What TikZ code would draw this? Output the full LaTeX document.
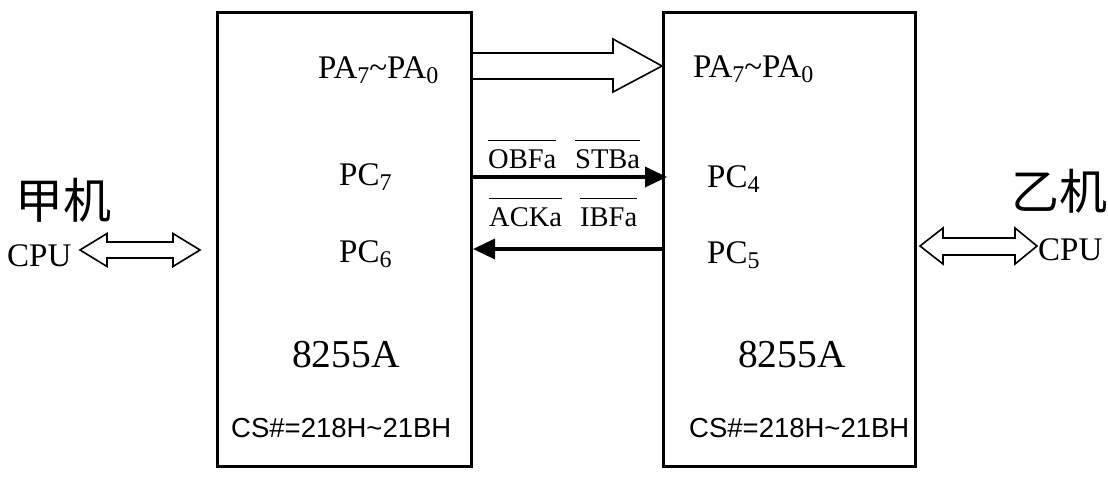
\documentclass[tikz,border=0pt]{standalone}
\usepackage{fontspec}
\setmainfont{Liberation Serif}
\newfontfamily\arialf{Liberation Sans}
\newfontfamily\cjk{Noto Sans CJK SC}
\usetikzlibrary{arrows.meta}
\newcommand\sbs[1]{\raisebox{-5pt}{\fontsize{24}{24}\selectfont #1}}
\newcommand\barw[1]{\leavevmode\vbox{\hrule height 1.1pt \kern 8pt \hbox{#1}}}
\begin{document}
\begin{tikzpicture}[x=1pt,y=-1pt,
  chip/.style={draw, line width=3pt, minimum width=254pt, minimum height=454pt, inner sep=0pt},
  lbl/.style={anchor=base west, inner sep=0pt, font=\fontsize{33}{33}\selectfont},
  big/.style={anchor=base west, inner sep=0pt, font=\fontsize{39.5}{39.5}\selectfont},
  cs/.style={anchor=base west, inner sep=0pt, font=\arialf\fontsize{27.5}{27.5}\selectfont},
  sig/.style={anchor=base west, inner sep=0pt, font=\fontsize{28.5}{28.5}\selectfont},
  han/.style={inner sep=0pt, font=\cjk\fontsize{48}{48}\selectfont},
  hollow/.style={draw, line width=1.6pt, line join=miter, fill=white},
  ctl/.style={line width=3.5pt, -{Triangle[length=22pt,width=20pt]}}]
\useasboundingbox (0,0) rectangle (1108,477);
% chips
\node[chip] (A) at (344.5,239) {};
\node[chip, minimum width=252pt] (B) at (789.5,239) {};
% left chip labels
\node[lbl] (apa) at (318,78) {PA\sbs{7}\textasciitilde PA\sbs{0}};
\node[lbl] (apc7) at (339,185) {PC\sbs{7}};
\node[lbl] (apc6) at (339,262) {PC\sbs{6}};
\node[big] (a8255) at (292,367) {8255A};
\node[cs] (acs) at (231,437) {CS\#=218H\textasciitilde 21BH};
% right chip labels
\node[lbl] (bpa) at (693,77) {PA\sbs{7}\textasciitilde PA\sbs{0}};
\node[lbl] (bpc4) at (707,187) {PC\sbs{4}};
\node[lbl] (bpc5) at (707,263) {PC\sbs{5}};
\node[big] (b8255) at (738,367) {8255A};
\node[cs] (bcs) at (689,437) {CS\#=218H\textasciitilde 21BH};
% data bus arrow
\coordinate (d1) at (A.east |- 0,53);
\coordinate (d2) at (A.east |- 0,79);
\coordinate (dt) at (B.west |- 0,66);
\draw[line width=1.6pt, line join=miter] (d1) -- (613,53) -- (613,39) -- (dt) -- (613,92) -- (613,79) -- (d2);
% handshake lines
\coordinate (s1a) at (A.east |- 0,177);
\coordinate (s1b) at ([xshift=5pt]B.west |- 0,177);
\draw[ctl] (s1a) -- (s1b);
\coordinate (s2a) at (B.west |- 0,249);
\coordinate (s2b) at (A.east |- 0,249);
\draw[ctl] (s2a) -- (s2b);
\node[sig] (obf) at (488,168) {\barw{OBFa}};
\node[sig] (stb) at (575,168) {\barw{STBa}};
\node[sig] (ack) at (489,226) {\barw{ACKa}};
\node[sig] (ibf) at (580,226) {\barw{IBFa}};
% left CPU
\node[han] (jia) at (63,200) {甲机};
\node[lbl] (cpu1) at (7,266) {CPU};
\draw[hollow] (80,250) -- (107,233.5) -- (107,242) -- (173,242) -- (173,233.5) -- (200,250)
  -- (173,266.5) -- (173,258) -- (107,258) -- (107,266.5) -- cycle;
% right CPU
\node[han] (yi) at (1059,191) {乙机};
\node[lbl] (cpu2) at (1038,260) {CPU};
\draw[hollow] (920,246) -- (943,228) -- (943,238) -- (1015,238) -- (1015,228) -- (1037,246)
  -- (1015,264) -- (1015,255) -- (943,255) -- (943,264) -- cycle;
\end{tikzpicture}
\end{document}
